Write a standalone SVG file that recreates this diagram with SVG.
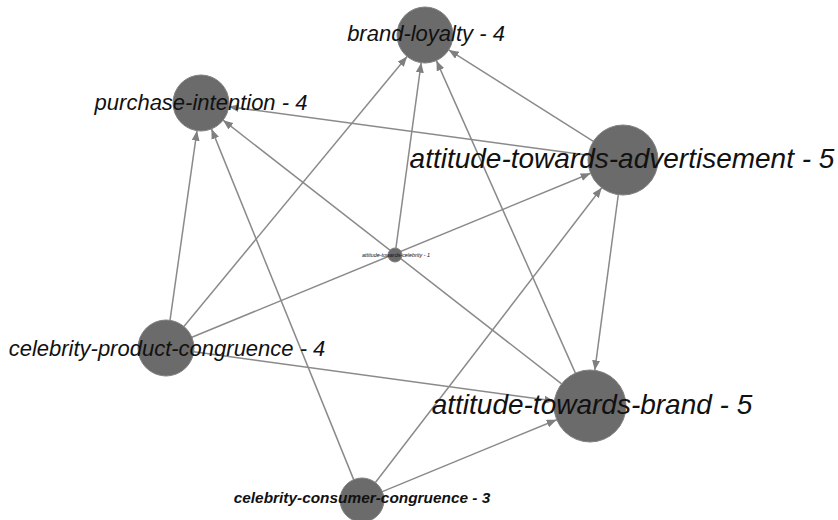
<svg xmlns="http://www.w3.org/2000/svg" width="838" height="520" viewBox="0 0 838 520">
  <defs>
    <marker id="arrow" markerUnits="userSpaceOnUse" viewBox="0 0 10 8" markerWidth="10" markerHeight="8" refX="10" refY="4" orient="auto">
      <path d="M0,0 L10,4 L0,8 z" fill="#7f7f7f"/>
    </marker>
    <style>
      .edge { stroke: #8a8a8a; stroke-width: 1.5; fill: none; marker-end: url(#arrow); }
      .node { fill: #6b6b6b; stroke: #808080; stroke-width: 1; }
      .label { font-family: "Liberation Sans", Arial, sans-serif; font-style: italic; fill: #111; text-anchor: middle; }
      .l22 { font-size: 22px; }
      .l28 { font-size: 28px; }
    </style>
  </defs>
  <rect width="838" height="520" fill="#ffffff"/>

  <g id="edges">
    <line class="edge" x1="593.4" y1="141.3" x2="448.7" y2="49.9"/>
    <line class="edge" x1="588.3" y1="155.3" x2="228.8" y2="106.7"/>
    <line class="edge" x1="618.3" y1="194.7" x2="594.8" y2="370.3"/>
    <line class="edge" x1="395.9" y1="248.1" x2="421.2" y2="62.7"/>
    <line class="edge" x1="170.0" y1="320.3" x2="197.0" y2="130.7"/>
    <line class="edge" x1="183.9" y1="326.4" x2="407.1" y2="56.6"/>
    <line class="edge" x1="191.9" y1="337.3" x2="590.6" y2="173.3"/>
    <line class="edge" x1="193.7" y1="351.8" x2="554.3" y2="401.1"/>
    <line class="edge" x1="575.4" y1="373.1" x2="436.4" y2="60.6"/>
    <line class="edge" x1="561.6" y1="383.9" x2="223.1" y2="120.2"/>
    <line class="edge" x1="353.7" y1="479.6" x2="211.5" y2="128.9"/>
    <line class="edge" x1="375.4" y1="482.5" x2="601.7" y2="187.8"/>
    <line class="edge" x1="382.3" y1="491.6" x2="556.7" y2="419.7"/>
  </g>

  <g id="brand-loyalty">
    <circle class="node" cx="425" cy="35" r="28"/>
    <text class="label l22" x="426" y="41">brand-loyalty - 4</text>
  </g>
  <g id="purchase-intention">
    <circle class="node" cx="201" cy="103" r="28"/>
    <text class="label l22" x="201" y="110">purchase-intention - 4</text>
  </g>
  <g id="attitude-towards-advertisement">
    <circle class="node" cx="623" cy="160" r="35"/>
    <text class="label l28" x="622" y="168">attitude-towards-advertisement - 5</text>
  </g>
  <g id="attitude-towards-celebrity">
    <circle class="node" cx="395" cy="255" r="7"/>
    <text class="label" style="font-size:5.4px" x="396" y="257">attitude-towards-celebrity - 1</text>
  </g>
  <g id="celebrity-product-congruence">
    <circle class="node" cx="166" cy="348" r="28"/>
    <text class="label l22" x="167" y="356">celebrity-product-congruence - 4</text>
  </g>
  <g id="attitude-towards-brand">
    <circle class="node" cx="590" cy="406" r="36"/>
    <text class="label l28" x="592" y="414">attitude-towards-brand - 5</text>
  </g>
  <g id="celebrity-consumer-congruence">
    <circle class="node" cx="362" cy="500" r="22"/>
    <text class="label" style="font-size:15.4px;font-weight:bold" x="362" y="503">celebrity-consumer-congruence - 3</text>
  </g>
</svg>
